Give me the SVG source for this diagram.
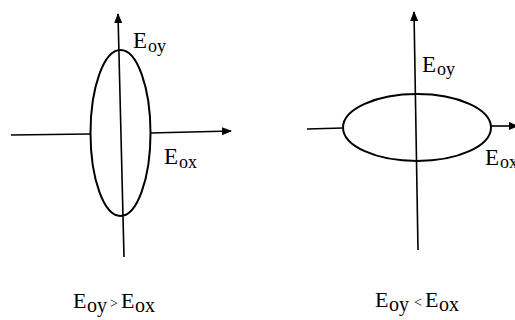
<svg xmlns="http://www.w3.org/2000/svg" width="515" height="320" viewBox="0 0 515 320">
<style>
.ax{stroke:#000;stroke-width:1.6;fill:none}
.el{stroke:#000;stroke-width:2;fill:none}
.lb{font-family:"Liberation Serif","Times New Roman",serif;fill:#000}
.big{font-size:23px}
.sub{font-size:18px}
.cap{font-size:22px}
.capsub{font-size:20px}
.rel{font-size:14px}
</style>
<defs>
<marker id="ah" viewBox="0 0 10 8" refX="9" refY="4" markerWidth="10" markerHeight="8" markerUnits="userSpaceOnUse" orient="auto">
<path d="M0,0 L10,4 L0,8 Z" fill="#000"/>
</marker>
</defs>
<g id="connectors">
<line class="ax" x1="124" y1="257" x2="118" y2="14" marker-end="url(#ah)"/>
<line class="ax" x1="11" y1="135" x2="90" y2="134"/>
<line class="ax" x1="150" y1="133" x2="231" y2="131" marker-end="url(#ah)"/>
<line class="ax" x1="418" y1="250" x2="414" y2="12" marker-end="url(#ah)"/>
<line class="ax" x1="307" y1="129" x2="343" y2="128"/>
<line class="ax" x1="491" y1="126" x2="518" y2="126" marker-end="url(#ah)"/>
</g>
<g id="ellipse-left">
<ellipse class="el" cx="120.5" cy="133" rx="30" ry="83"/>
</g>
<g id="ellipse-right">
<ellipse class="el" cx="417" cy="127.5" rx="74" ry="33.5"/>
</g>
<g id="labels">
<text class="lb big" x="133" y="48">E</text><text class="lb sub" x="148" y="52">oy</text>
<text class="lb big" x="164" y="164">E</text><text class="lb sub" x="179" y="168">ox</text>
<text class="lb big" x="422" y="72">E</text><text class="lb sub" x="437" y="75">oy</text>
<text class="lb big" x="485" y="165">E</text><text class="lb sub" x="500" y="168">ox</text>
<text class="lb cap" x="73" y="308">E</text><text class="lb capsub" x="87" y="312">oy</text>
<text class="lb rel" x="110" y="308">&gt;</text>
<text class="lb cap" x="121" y="308">E</text><text class="lb capsub" x="135" y="312">ox</text>
<text class="lb cap" x="375" y="307">E</text><text class="lb capsub" x="389" y="311">oy</text>
<text class="lb rel" x="414" y="307">&lt;</text>
<text class="lb cap" x="425" y="307">E</text><text class="lb capsub" x="439" y="311">ox</text>
</g>
</svg>
